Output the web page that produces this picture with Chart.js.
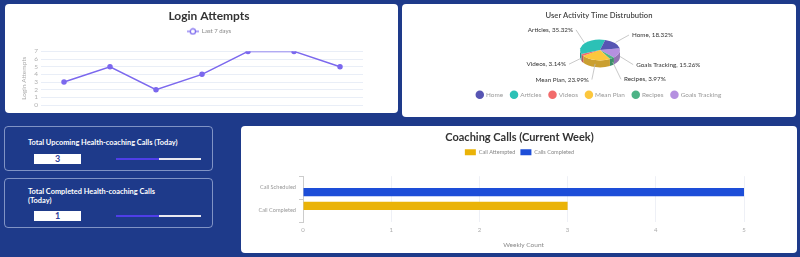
<!DOCTYPE html>
<html>
<head>
<meta charset="utf-8">
<script src="https://cdn.jsdelivr.net/npm/chart.js@4.4.1/dist/chart.umd.min.js"></script>
<style>
  body { margin: 0; width: 800px; height: 257px; background: #1e3a8a; position: relative; overflow: hidden; font-family: Lato, sans-serif; }
  .card { position: absolute; background: #fff; border-radius: 4px; }
  .box { position: absolute; border: 1px solid rgba(210, 220, 245, 0.55); border-radius: 4px; color: #fff; }
  .box .label { position: absolute; left: 23px; font-size: 7.4px; font-weight: bold; line-height: 9px; }
  .box .value { position: absolute; left: 29px; width: 47px; height: 10px; background: #fff; color: #2f3f9a; font-size: 9px; font-weight: bold; text-align: center; line-height: 10px; }
  .box .bar { position: absolute; left: 111px; width: 85px; height: 2px; background: #e8e8f0; }
  .box .bar span { display: block; width: 43px; height: 2px; background: #4f3ee8; }
  canvas { position: absolute; }
</style>
</head>
<body>
<div class="card" style="left:5px;top:4px;width:393px;height:109px"></div>
<div class="card" style="left:402px;top:4px;width:394px;height:113px"></div>
<div class="card" style="left:241px;top:126px;width:556px;height:127px"></div>

<div class="box" style="left:4px;top:126px;width:207px;height:43px">
  <div class="label" style="top:11px">Total Upcoming Health-coaching Calls (Today)</div>
  <div class="value" style="top:27px" id="upcoming"></div>
  <div class="bar" style="top:31px"><span></span></div>
</div>
<div class="box" style="left:4px;top:178px;width:207px;height:48px">
  <div class="label" style="top:8px">Total Completed Health-coaching Calls<br>(Today)</div>
  <div class="value" style="top:32px" id="completed"></div>
  <div class="bar" style="top:36px"><span></span></div>
</div>

<canvas id="loginChart" width="378" height="109" style="left:20px;top:4px"></canvas>
<canvas id="activityChart" width="394" height="113" style="left:402px;top:4px"></canvas>
<canvas id="callsChart" width="555" height="127" style="left:242px;top:126px"></canvas>

<script>
// login attempts, last 7 days
const loginDays = ['Day 1', 'Day 2', 'Day 3', 'Day 4', 'Day 5', 'Day 6', 'Day 7']
const loginCounts = [3, 5, 2, 4, 7, 7, 5]

// user activity time (percent)
const activityLabels = ['Home', 'Articles', 'Videos', 'Mean Plan', 'Recipes', 'Goals Tracking']
const activityShares = [18.32, 35.32, 3.14, 23.99, 3.97, 15.26]
const activityColors = ['#5755b3', '#2cc1b6', '#f26b6b', '#fcc73d', '#4db386', '#b590e0']

// coaching calls this week
const callCategories = ['Call Scheduled', 'Call Completed']
const callAttempted = [0, 3]
const callsCompleted = [5, 0]

// today's counters
const upcomingToday = 3
const completedToday = 1

document.getElementById('upcoming').textContent = upcomingToday
document.getElementById('completed').textContent = completedToday

Chart.defaults.font.family = 'Lato, sans-serif'
Chart.defaults.animation = false
Chart.defaults.responsive = false

const lineColor = '#7b68ee'

// empty axis, only used to keep some room on one side of the plot
const spacer = (axis, position, size) => ({
    axis, position, type: 'linear', display: true,
    grid: { display: false }, ticks: { display: false }, border: { display: false },
    afterFit: (s) => { if (axis === 'x') s.height = size; else s.width = size }
})

// small "-o-" icon for the line legend
const legendIcon = document.createElement('canvas')
legendIcon.width = 12
legendIcon.height = 8
const ic = legendIcon.getContext('2d')
ic.strokeStyle = lineColor
ic.lineWidth = 1.2
ic.beginPath(); ic.moveTo(0, 4); ic.lineTo(12, 4); ic.stroke()
ic.beginPath(); ic.arc(6, 4, 2.6, 0, Math.PI * 2)
ic.fillStyle = '#fff'; ic.fill(); ic.stroke()

new Chart(document.getElementById('loginChart'), {
    type: 'line',
    data: {
        labels: loginDays,
        datasets: [{
            label: 'Last 7 days',
            data: loginCounts,
            borderColor: lineColor,
            backgroundColor: lineColor,
            borderWidth: 1.5,
            pointRadius: 2,
            tension: 0
        }]
    },
    options: {
        layout: { padding: { bottom: 8 } },
        plugins: {
            title: { display: true, text: 'Login Attempts', color: '#333', font: { size: 12, weight: 'bold' }, padding: { top: 5, bottom: 3 } },
            legend: {
                labels: { usePointStyle: true, pointStyle: legendIcon, pointStyleWidth: 12, color: '#888', font: { size: 6 }, padding: 2 }
            },
            tooltip: { enabled: false }
        },
        scales: {
            x: { display: false, offset: true },
            y: {
                min: 0, max: 7,
                ticks: { stepSize: 1, autoSkip: false, color: '#b0b0b0', font: { size: 6.5 }, padding: 3 },
                grid: { color: '#e9eef7', drawTicks: false },
                border: { display: false },
                title: { display: true, text: 'Login Attempts', color: '#aaa', font: { size: 6.5 }, padding: { top: 0, bottom: 2 } },
                afterFit: (s) => { s.width = 21 }
            },
            padTop: spacer('x', 'top', 7),
            pad: spacer('y', 'right', 35)
        }
    }
})

// squash the pie into an ellipse and give it a side wall
const shade = (hex, f) => {
    const n = parseInt(hex.slice(1), 16)
    const c = [n >> 16, (n >> 8) & 255, n & 255].map(v => Math.round(v * f))
    return `rgb(${c[0]},${c[1]},${c[2]})`
}

const pie3d = {
    id: 'pie3d',
    beforeDatasetsDraw(chart, args, opts) {
        const ctx = chart.ctx
        const arcs = chart.getDatasetMeta(0).data
        const r = arcs[0].outerRadius
        const { cx, cy, tilt, depth } = opts
        const colors = chart.data.datasets[0].backgroundColor
        arcs.forEach((arc, i) => {
            for (const off of [-2 * Math.PI, 0, 2 * Math.PI, 4 * Math.PI]) {
                const s = Math.max(arc.startAngle, off)
                const e = Math.min(arc.endAngle, off + Math.PI)
                if (e <= s) continue
                ctx.beginPath()
                ctx.ellipse(cx, cy, r, r * tilt, 0, s, e)
                ctx.ellipse(cx, cy + depth, r, r * tilt, 0, e, s, true)
                ctx.closePath()
                ctx.fillStyle = shade(colors[i], 0.8)
                ctx.fill()
            }
        })
        ctx.save()
        ctx.translate(cx, cy)
        ctx.scale(1, tilt)
        ctx.translate(-arcs[0].x, -arcs[0].y)
    },
    afterDatasetsDraw(chart) {
        chart.ctx.restore()
    },
    afterDraw(chart, args, opts) {
        const ctx = chart.ctx
        const arcs = chart.getDatasetMeta(0).data
        const { cx, cy, tilt, depth } = opts
        const labels = chart.data.labels
        const values = chart.data.datasets[0].data
        ctx.save()
        ctx.font = '6.3px Lato, sans-serif'
        ctx.fillStyle = '#333'
        ctx.strokeStyle = '#bbb'
        ctx.lineWidth = 0.8
        ctx.textBaseline = 'middle'
        arcs.forEach((arc, i) => {
            const r = arc.outerRadius
            const mid = (arc.startAngle + arc.endAngle) / 2
            const c = Math.cos(mid), s = Math.sin(mid)
            const upRight = c > 0 && s < 0
            const x0 = cx + (r + 1) * c
            const y0 = cy + (r * tilt + 1) * s + (s > 0 ? depth * 0.4 : 0)
            const x1 = cx + (r + (upRight ? 19 : c < 0 && s < 0 ? 12 : 15)) * c
            const y1 = cy + (r * tilt + (upRight ? 12 : 20)) * s + (s > 0 && c > 0 ? 5 : 0)
            ctx.beginPath(); ctx.moveTo(x0, y0); ctx.lineTo(x1, y1); ctx.stroke()
            ctx.textAlign = c >= 0 ? 'left' : 'right'
            ctx.fillText(`${labels[i]}, ${values[i].toFixed(2)}%`, x1 + (c >= 0 ? 3 : -3), y1)
        })
        ctx.restore()
    }
}

// chart.js draws clockwise; the reference runs the slices the other way round
new Chart(document.getElementById('activityChart'), {
    type: 'pie',
    data: {
        labels: activityLabels.slice().reverse(),
        datasets: [{
            data: activityShares.slice().reverse(),
            backgroundColor: activityColors.slice().reverse(),
            borderWidth: 0,
            radius: 20,
            clip: false
        }]
    },
    options: {
        rotation: 81,
        layout: { padding: { bottom: 9 } },
        plugins: {
            title: { display: true, text: 'User Activity Time Distrubution', color: '#444', font: { size: 7.6, weight: '600' }, padding: { top: 7, bottom: 4 } },
            legend: {
                position: 'bottom',
                reverse: true,
                labels: { usePointStyle: true, pointStyle: 'circle', boxWidth: 6, boxHeight: 6, color: '#999', font: { size: 6.4 }, padding: 8 }
            },
            tooltip: { enabled: false },
            pie3d: { cx: 198, cy: 46, tilt: 0.52, depth: 7 }
        }
    },
    plugins: [pie3d]
})

new Chart(document.getElementById('callsChart'), {
    type: 'bar',
    data: {
        labels: callCategories,
        datasets: [
            { label: 'Call Attempted', data: callAttempted, backgroundColor: '#eab308' },
            { label: 'Calls Completed', data: callsCompleted, backgroundColor: '#1d4ed8' }
        ]
    },
    options: {
        indexAxis: 'y',
        layout: { padding: { bottom: 4 } },
        plugins: {
            title: { display: true, text: 'Coaching Calls (Current Week)', color: '#333', font: { size: 11, weight: 'bold' }, padding: { top: 5, bottom: 0 } },
            legend: { labels: { boxWidth: 11, boxHeight: 6, color: '#888', font: { size: 5.6 }, padding: 5 } },
            tooltip: { enabled: false }
        },
        scales: {
            x: {
                beginAtZero: true,
                ticks: { stepSize: 1, color: '#aaa', font: { size: 6 }, padding: 4 },
                grid: { color: '#eef0f6', drawTicks: false },
                border: { display: false },
                title: { display: true, text: 'Weekly Count', color: '#888', font: { size: 6.5 }, padding: { top: 4, bottom: 0 } }
            },
            y: {
                ticks: { color: '#999', font: { size: 5.6 }, padding: 3 },
                grid: { drawOnChartArea: false, color: '#ccc', tickLength: 4 },
                border: { display: true, color: '#ccc' },
                afterFit: (s) => { s.width = 61 }
            },
            padTop: spacer('x', 'top', 11),
            pad: spacer('y', 'right', 53)
        }
    }
})
</script>
</body>
</html>
